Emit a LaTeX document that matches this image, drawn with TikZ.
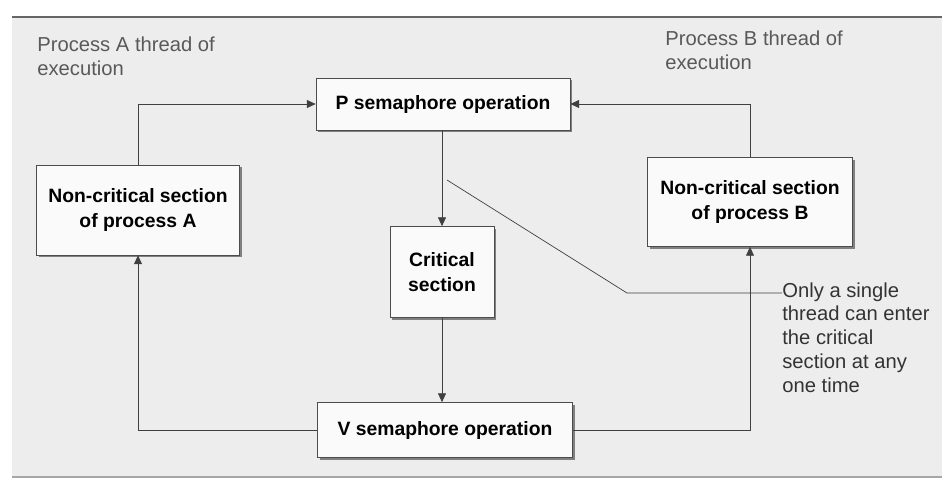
\documentclass[tikz,border=0pt]{standalone}
\usepackage{fontspec}
\setmainfont{Liberation Sans}
\usetikzlibrary{arrows.meta,positioning,calc,shadows}
\tikzset{
  box/.style={draw=black!70, fill=gray!4, align=center, inner sep=1mm,
    font=\bfseries\fontsize{11}{14.5}\selectfont,
    drop shadow={shadow xshift=1.3pt, shadow yshift=-1.3pt, fill=black!50, opacity=1}},
  note/.style={align=left, text=black!65, inner sep=0pt, anchor=north west,
    font=\fontsize{11.5}{13.6}\selectfont},
  arrow/.style={-{Triangle[length=5pt,width=4.5pt]}, draw=black!75, thin},
  line/.style={draw=black!75, thin},
}

\begin{document}
\begin{tikzpicture}[x=0.02cm, y=-0.02cm]
  % page and grey panel
  \useasboundingbox (0,0) rectangle (942,481);
  \fill[white] (0,0) rectangle (942,481);
  \fill[gray!14] (12,17) rectangle (942,477);
  \draw[black!60, line width=0.8pt] (12,17) -- (942,17);
  \draw[black!35, line width=0.6pt] (12,477) -- (942,477);

  % boxes
  \node[box, minimum width=5.08cm, minimum height=1.04cm] (psem) at (443,104) {P semaphore operation};
  \node[box, minimum width=4.06cm, minimum height=1.8cm] (nonA) at (138,210) {Non-critical section\\of process A};
  \node[box, minimum width=2.08cm, minimum height=1.82cm] (crit) at (442,272) {Critical\\section};
  \node[box, minimum width=4.1cm, minimum height=1.78cm] (nonB) at (750,202) {Non-critical section\\of process B};
  \node[box, minimum width=5.1cm, minimum height=1.1cm] (vsem) at (445,430) {V semaphore operation};

  % labels
  \node[note] (threadA) at (37,37) {Process A thread of\\execution};
  \node[note] (threadB) at (665,31) {Process B thread of\\execution};
  \node[note, text=black!80] (only) at (782,282) {Only a single\\thread can enter\\the critical\\section at any\\one time};

  % connectors
  \draw[arrow] (nonA.north) |- (psem.west);
  \draw[arrow] (nonB.north) |- (psem.east);
  \draw[arrow] (psem.south -| crit.north) -- (crit.north);
  \draw[arrow] (crit.south) -- (crit.south |- vsem.north);
  \draw[arrow] (vsem.west) -| (nonA.south);
  \draw[arrow] (vsem.east) -| (nonB.south);

  % note pointer
  \coordinate (tail) at (447,180);
  \coordinate (bend) at (627,293);
  \draw[line] (tail) -- (bend) -- (bend -| only.west);
\end{tikzpicture}
\end{document}
